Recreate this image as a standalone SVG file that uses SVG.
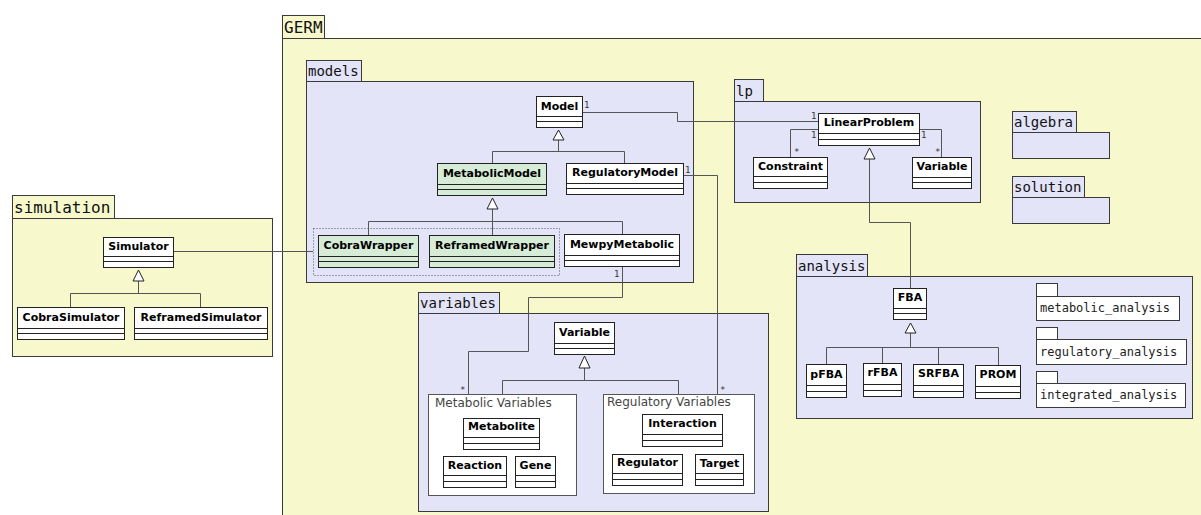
<svg xmlns="http://www.w3.org/2000/svg" width="1201" height="515" viewBox="0 0 1201 515">
  <style>
    .pkg-y { fill: #f8f8cd; stroke: #3a3a3a; stroke-width: 1; }
    .pkg-l { fill: #e4e4f8; stroke: #3a3a3a; stroke-width: 1; }
    .pkg-w { fill: #ffffff; stroke: #3a3a3a; stroke-width: 1; }
    .grp { fill: #ffffff; stroke: #555555; stroke-width: 1; }
    .ptitle { font-family: "DejaVu Sans Mono", monospace; font-size: 14px; fill: #111; }
    .ptitle-big { font-family: "DejaVu Sans Mono", monospace; font-size: 16px; fill: #111; }
    .psmall { font-family: "DejaVu Sans Mono", monospace; font-size: 12px; fill: #222; }
    .gtitle { font-family: "DejaVu Sans", sans-serif; font-size: 12px; fill: #444; }
    .cls { fill: #ffffff; stroke: #222; stroke-width: 1; }
    .cls-g { fill: #d6ecd6; stroke: #222; stroke-width: 1; }
    .div { stroke: #222; stroke-width: 1; }
    .cname { font-family: "DejaVu Sans", sans-serif; font-size: 11px; font-weight: bold; fill: #000; text-anchor: middle; }
    .conn { fill: none; stroke: #555; stroke-width: 1; }
    .gen { fill: #ffffff; stroke: #222; stroke-width: 1; }
    .mult { font-family: "DejaVu Sans Mono", monospace; font-size: 9px; fill: #333; }
    .dotted { fill: none; stroke: #555; stroke-width: 1; stroke-dasharray: 1,2; }
  </style>

  <!-- packages -->
  <g id="pkg-germ">
    <rect class="pkg-y" x="282.5" y="15.5" width="42" height="23"/>
    <rect class="pkg-y" x="282.5" y="38.5" width="1000" height="600"/>
    <text class="ptitle-big" x="284" y="33">GERM</text>
  </g>
  <g id="pkg-simulation">
    <rect class="pkg-y" x="12.5" y="195.5" width="102" height="23"/>
    <rect class="pkg-y" x="12.5" y="218.5" width="260" height="138"/>
    <text class="ptitle-big" x="14" y="213">simulation</text>
  </g>
  <g id="pkg-models">
    <rect class="pkg-l" x="306.5" y="60.5" width="55" height="21"/>
    <rect class="pkg-l" x="306.5" y="81.5" width="387" height="201"/>
    <text class="ptitle" x="308" y="76">models</text>
  </g>
  <g id="pkg-lp">
    <rect class="pkg-l" x="734.5" y="79.5" width="29" height="22"/>
    <rect class="pkg-l" x="734.5" y="101.5" width="246" height="101"/>
    <text class="ptitle" x="736" y="96">lp</text>
  </g>
  <g id="pkg-algebra">
    <rect class="pkg-l" x="1012.5" y="111.5" width="64" height="21"/>
    <rect class="pkg-l" x="1012.5" y="132.5" width="97" height="26"/>
    <text class="ptitle" x="1014" y="127">algebra</text>
  </g>
  <g id="pkg-solution">
    <rect class="pkg-l" x="1012.5" y="176.5" width="72" height="21"/>
    <rect class="pkg-l" x="1012.5" y="197.5" width="97" height="26"/>
    <text class="ptitle" x="1014" y="192">solution</text>
  </g>
  <g id="pkg-analysis">
    <rect class="pkg-l" x="796.5" y="254.5" width="71" height="22"/>
    <rect class="pkg-l" x="796.5" y="276.5" width="396" height="142"/>
    <text class="ptitle" x="798" y="271">analysis</text>
  </g>
  <g id="pkg-metabolic-analysis">
    <rect class="pkg-w" x="1036.5" y="283.5" width="21" height="13"/>
    <rect class="pkg-w" x="1036.5" y="296.5" width="143" height="24"/>
    <text class="psmall" x="1040" y="312">metabolic_analysis</text>
  </g>
  <g id="pkg-regulatory-analysis">
    <rect class="pkg-w" x="1036.5" y="327.5" width="21" height="12"/>
    <rect class="pkg-w" x="1036.5" y="339.5" width="150" height="25"/>
    <text class="psmall" x="1040" y="356">regulatory_analysis</text>
  </g>
  <g id="pkg-integrated-analysis">
    <rect class="pkg-w" x="1036.5" y="371.5" width="21" height="12"/>
    <rect class="pkg-w" x="1036.5" y="383.5" width="149" height="24"/>
    <text class="psmall" x="1040" y="399">integrated_analysis</text>
  </g>
  <g id="pkg-variables">
    <rect class="pkg-l" x="418.5" y="292.5" width="81" height="21"/>
    <rect class="pkg-l" x="418.5" y="313.5" width="350" height="198"/>
    <text class="ptitle" x="420" y="308">variables</text>
  </g>
  <g id="grp-metabolic-variables">
    <rect class="grp" x="428.5" y="394.5" width="148" height="101"/>
    <text class="gtitle" x="435" y="407">Metabolic Variables</text>
  </g>
  <g id="grp-regulatory-variables">
    <rect class="grp" x="603.5" y="394.5" width="151" height="99"/>
    <text class="gtitle" x="607" y="406">Regulatory Variables</text>
  </g>
  <g id="grp-wrappers">
    <rect class="dotted" x="313.5" y="228.5" width="246" height="47"/>
  </g>

  <!-- connectors -->
  <g id="connectors">
    <!-- associations -->
    <polyline class="conn" points="173,251.5 313,251.5"/>
    <polyline class="conn" points="582,112.5 677.5,112.5 677.5,121.5 818,121.5"/>
    <polyline class="conn" points="818,129.5 790.5,129.5 790.5,157"/>
    <polyline class="conn" points="919,129.5 941.5,129.5 941.5,157"/>
    <polyline class="conn" points="683,175.5 717.5,175.5 717.5,394"/>
    <polyline class="conn" points="622.5,266 622.5,297.5 528.5,297.5 528.5,351.5 468.5,351.5 468.5,394"/>
    <!-- generalizations -->
    <polyline class="conn" points="138.5,281 138.5,293.5"/>
    <polyline class="conn" points="70.5,307 70.5,293.5 200.5,293.5 200.5,307"/>
    <polygon class="gen" points="138.5,270 133,281 144,281"/>

    <polyline class="conn" points="558.5,140 558.5,151.5"/>
    <polyline class="conn" points="492.5,163 492.5,151.5 624.5,151.5 624.5,163"/>
    <polygon class="gen" points="558.5,130 553,140 564,140"/>

    <polyline class="conn" points="492.5,209 492.5,235"/>
    <polyline class="conn" points="368.5,235 368.5,221.5 622.5,221.5 622.5,234"/>
    <polygon class="gen" points="492.5,198 487,209 498,209"/>

    <polyline class="conn" points="869.5,159 869.5,222.5 910.5,222.5 910.5,288"/>
    <polygon class="gen" points="869.5,148 864,159 875,159"/>

    <polyline class="conn" points="910.5,333 910.5,347.5"/>
    <polyline class="conn" points="826.5,364 826.5,347.5 998.5,347.5 998.5,365"/>
    <polyline class="conn" points="882.5,347.5 882.5,363"/>
    <polyline class="conn" points="938.5,347.5 938.5,364"/>
    <polygon class="gen" points="910.5,323 905,333 916,333"/>

    <polyline class="conn" points="584.5,368 584.5,380.5"/>
    <polyline class="conn" points="502.5,394 502.5,380.5 678.5,380.5 678.5,394"/>
    <polygon class="gen" points="584.5,356 579,368 590,368"/>

    <!-- multiplicities -->
    <text class="mult" x="584" y="108">1</text>
    <text class="mult" x="811" y="119">1</text>
    <text class="mult" x="811" y="138">1</text>
    <text class="mult" x="794" y="155">*</text>
    <text class="mult" x="921" y="138">1</text>
    <text class="mult" x="935" y="155">*</text>
    <text class="mult" x="685" y="173">1</text>
    <text class="mult" x="720" y="393">*</text>
    <text class="mult" x="614" y="277">1</text>
    <text class="mult" x="460" y="393">*</text>
  </g>

  <!-- classes -->
  <g id="Simulator"><rect class="cls" x="103.5" y="237.5" width="70" height="30"/><path class="div" d="M103.5,256.5h70M103.5,261.5h70"/><text class="cname" x="138.5" y="250">Simulator</text></g>
  <g id="CobraSimulator"><rect class="cls" x="17.5" y="307.5" width="107" height="32"/><path class="div" d="M17.5,328.5h107M17.5,333.5h107"/><text class="cname" x="71" y="321">CobraSimulator</text></g>
  <g id="ReframedSimulator"><rect class="cls" x="134.5" y="307.5" width="133" height="32"/><path class="div" d="M134.5,328.5h133M134.5,333.5h133"/><text class="cname" x="201" y="321">ReframedSimulator</text></g>

  <g id="Model"><rect class="cls" x="536.5" y="96.5" width="46" height="31"/><path class="div" d="M536.5,116.5h46M536.5,121.5h46"/><text class="cname" x="559.5" y="110">Model</text></g>
  <g id="MetabolicModel"><rect class="cls-g" x="437.5" y="163.5" width="109" height="32"/><path class="div" d="M437.5,184.5h109M437.5,189.5h109"/><text class="cname" x="492" y="177">MetabolicModel</text></g>
  <g id="RegulatoryModel"><rect class="cls" x="566.5" y="163.5" width="117" height="31"/><path class="div" d="M566.5,183.5h117M566.5,188.5h117"/><text class="cname" x="625" y="176">RegulatoryModel</text></g>
  <g id="CobraWrapper"><rect class="cls-g" x="318.5" y="235.5" width="100" height="32"/><path class="div" d="M318.5,256.5h100M318.5,261.5h100"/><text class="cname" x="368.5" y="249">CobraWrapper</text></g>
  <g id="ReframedWrapper"><rect class="cls-g" x="429.5" y="235.5" width="125" height="32"/><path class="div" d="M429.5,256.5h125M429.5,261.5h125"/><text class="cname" x="492" y="249">ReframedWrapper</text></g>
  <g id="MewpyMetabolic"><rect class="cls" x="564.5" y="234.5" width="115" height="32"/><path class="div" d="M564.5,255.5h115M564.5,260.5h115"/><text class="cname" x="622" y="248">MewpyMetabolic</text></g>

  <g id="LinearProblem"><rect class="cls" x="818.5" y="113.5" width="101" height="32"/><path class="div" d="M818.5,133.5h101M818.5,139.5h101"/><text class="cname" x="869" y="126">LinearProblem</text></g>
  <g id="Constraint"><rect class="cls" x="753.5" y="157.5" width="74" height="31"/><path class="div" d="M753.5,176.5h74M753.5,182.5h74"/><text class="cname" x="790.5" y="170">Constraint</text></g>
  <g id="lp-Variable"><rect class="cls" x="912.5" y="157.5" width="59" height="31"/><path class="div" d="M912.5,177.5h59M912.5,182.5h59"/><text class="cname" x="942" y="170">Variable</text></g>

  <g id="FBA"><rect class="cls" x="893.5" y="288.5" width="33" height="31"/><path class="div" d="M893.5,308.5h33M893.5,313.5h33"/><text class="cname" x="910" y="301">FBA</text></g>
  <g id="pFBA"><rect class="cls" x="806.5" y="364.5" width="40" height="33"/><path class="div" d="M806.5,385.5h40M806.5,391.5h40"/><text class="cname" x="826.5" y="378">pFBA</text></g>
  <g id="rFBA"><rect class="cls" x="863.5" y="363.5" width="38" height="33"/><path class="div" d="M863.5,384.5h38M863.5,390.5h38"/><text class="cname" x="882.5" y="376">rFBA</text></g>
  <g id="SRFBA"><rect class="cls" x="913.5" y="364.5" width="50" height="33"/><path class="div" d="M913.5,385.5h50M913.5,391.5h50"/><text class="cname" x="938.5" y="377">SRFBA</text></g>
  <g id="PROM"><rect class="cls" x="975.5" y="365.5" width="45" height="33"/><path class="div" d="M975.5,386.5h45M975.5,392.5h45"/><text class="cname" x="998" y="378">PROM</text></g>

  <g id="Variable"><rect class="cls" x="554.5" y="322.5" width="60" height="32"/><path class="div" d="M554.5,343.5h60M554.5,348.5h60"/><text class="cname" x="584.5" y="336">Variable</text></g>
  <g id="Metabolite"><rect class="cls" x="463.5" y="418.5" width="76" height="31"/><path class="div" d="M463.5,437.5h76M463.5,443.5h76"/><text class="cname" x="501.5" y="430">Metabolite</text></g>
  <g id="Reaction"><rect class="cls" x="443.5" y="456.5" width="63" height="31"/><path class="div" d="M443.5,475.5h63M443.5,481.5h63"/><text class="cname" x="475" y="469">Reaction</text></g>
  <g id="Gene"><rect class="cls" x="515.5" y="456.5" width="40" height="31"/><path class="div" d="M515.5,475.5h40M515.5,481.5h40"/><text class="cname" x="535.5" y="469">Gene</text></g>
  <g id="Interaction"><rect class="cls" x="642.5" y="414.5" width="80" height="32"/><path class="div" d="M642.5,434.5h80M642.5,440.5h80"/><text class="cname" x="682.5" y="427">Interaction</text></g>
  <g id="Regulator"><rect class="cls" x="612.5" y="454.5" width="70" height="31"/><path class="div" d="M612.5,473.5h70M612.5,479.5h70"/><text class="cname" x="647.5" y="466">Regulator</text></g>
  <g id="Target"><rect class="cls" x="695.5" y="454.5" width="48" height="31"/><path class="div" d="M695.5,473.5h48M695.5,479.5h48"/><text class="cname" x="719.5" y="467">Target</text></g>
</svg>
